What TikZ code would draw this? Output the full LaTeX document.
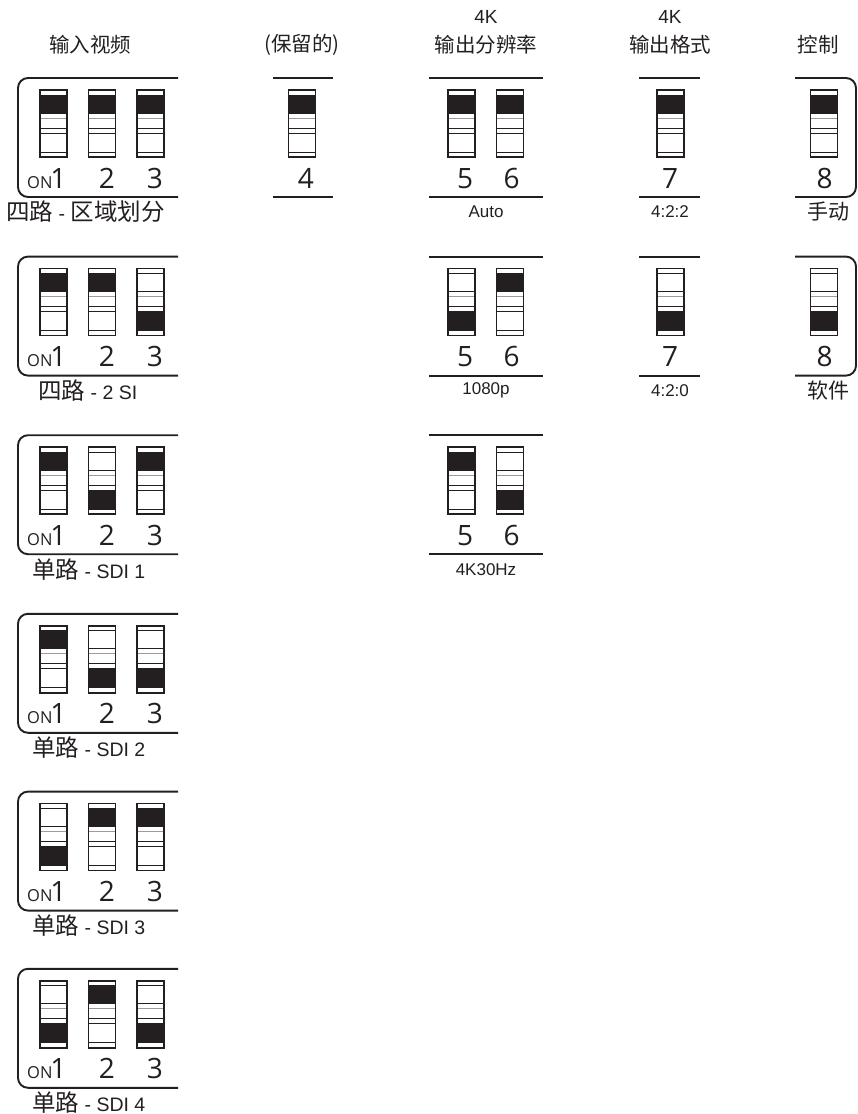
\documentclass[tikz,border=0pt]{standalone}
\usepackage{fontspec}
\setmainfont{Liberation Sans}
\newfontfamily\cjkfont{Noto Sans CJK SC}
\newfontfamily\numfont{Open Sans}
\usetikzlibrary{positioning}
\definecolor{swInk}{RGB}{35,31,32}
\newcommand\lat[1]{{\normalfont\fontsize{19.5}{19.5}\selectfont #1}}
\tikzset{
  frameline/.style={draw=swInk, line width=1.9pt},
  groupframe/.style={frameline, rounded corners=10pt},
  swcase/.style={draw=swInk, line width=1.5pt},
  swrule/.style={draw=swInk, line width=1pt},
  swfaint/.style={draw=swInk!45, line width=0.8pt},
  pics/dipsw/.style={code={
    \fill[swInk] (-13.5,#1) rectangle (13.5,#1+18.5);
    \foreach \h in {5,23,38,43,62} \draw[swrule] (-13.5,\h) -- (13.5,\h);
    \draw[swfaint] (-13.5,28) -- (13.5,28);
    \draw[swcase] (-13.5,0) rectangle (13.5,67);
  }},
  swnum/.style={anchor=base, inner sep=0pt, text=swInk, font=\numfont\fontsize{28}{28}\selectfont},
  onmark/.style={anchor=base west, inner sep=0pt, text=swInk, font=\numfont\fontsize{16.5}{16.5}\selectfont},
  head/.style={inner sep=0pt, text=swInk, font=\cjkfont\fontsize{20.5}{20.5}\selectfont},
  headtop/.style={inner sep=0pt, text=swInk, font=\fontsize{19}{19}\selectfont},
  modelabel/.style={anchor=west, inner sep=0pt, text=swInk, font=\cjkfont\fontsize{23.5}{23.5}\selectfont},
  valuelabel/.style={inner sep=0pt, text=swInk, font=\fontsize{17}{17}\selectfont},
  ctllabel/.style={inner sep=0pt, text=swInk, font=\cjkfont\fontsize{21}{21}\selectfont}
}
\begin{document}
\begin{tikzpicture}[x=1pt, y=-1pt]
\useasboundingbox (0,0) rectangle (858,1114);

% column headings
\node[head] (hIn) at (90,45) {输入视频};
\node[head] (hRsv) at (302,45) {(保留的)};
\node[headtop] (hResK) at (486,17) {4K};
\node[head] (hRes) at (486,45) {输出分辨率};
\node[headtop] (hFmtK) at (670,17) {4K};
\node[head] (hFmt) at (670,45) {输出格式};
\node[head] (hCtl) at (818,45) {控制};

% input video, switches 1-3
\foreach \t/\sa/\sb/\sc [count=\r] in {78/5/5/5, 256.6/5/5/43, 435.2/5/43/5,
    613.8/5/43/43, 791.6/43/5/5, 968.8/43/5/43}{
  \draw[groupframe] (178,\t) -| (18,\t+119) -- (178,\t+119);
  \pic at (53.5,\t+12) {dipsw=\sa};
  \pic at (102,\t+12) {dipsw=\sb};
  \pic at (150.5,\t+12) {dipsw=\sc};
  \node[onmark] (on\r) at (27,\t+110) {ON};
  \node[swnum] (nA\r) at (58.5,\t+110) {1};
  \node[swnum] (nB\r) at (107,\t+110) {2};
  \node[swnum] (nC\r) at (155,\t+110) {3};
}
\node[modelabel] (mode1) at (6,212) {四路\lat{~-~}区域划分};
\node[modelabel] (mode2) at (38,391) {四路\lat{~-~2 SI}};
\node[modelabel] (mode3) at (32,569.5) {单路\lat{~-~SDI 1}};
\node[modelabel] (mode4) at (32,748) {单路\lat{~-~SDI 2}};
\node[modelabel] (mode5) at (32,926) {单路\lat{~-~SDI 3}};
\node[modelabel] (mode6) at (32,1102.5) {单路\lat{~-~SDI 4}};

% reserved, switch 4
\draw[frameline] (273,78) -- (333,78);
\draw[frameline] (273,197) -- (333,197);
\pic at (302,90) {dipsw=5};
\node[swnum] (nD) at (306,188) {4};

% 4K output resolution, switches 5-6
\foreach \t/\sa/\sb/\txt [count=\r] in {78/5/5/Auto, 256.6/43/5/1080p, 435.2/5/43/4K30Hz}{
  \draw[frameline] (429,\t) -- (543,\t);
  \draw[frameline] (429,\t+119) -- (543,\t+119);
  \pic at (461.5,\t+12) {dipsw=\sa};
  \pic at (510,\t+12) {dipsw=\sb};
  \node[swnum] (nE\r) at (465,\t+110) {5};
  \node[swnum] (nF\r) at (511.5,\t+110) {6};
  \node[valuelabel] (res\r) at (486,\t+134) {\txt};
}

% 4K output format, switch 7
\foreach \t/\sa/\txt [count=\r] in {78/5/4:2:2, 256.6/43/4:2:0}{
  \draw[frameline] (639,\t) -- (700,\t);
  \draw[frameline] (639,\t+119) -- (700,\t+119);
  \pic at (670.5,\t+12) {dipsw=\sa};
  \node[swnum] (nG\r) at (670,\t+110) {7};
  \node[valuelabel] (fmt\r) at (670,\t+134) {\txt};
}

% control, switch 8
\foreach \t/\sa/\txt [count=\r] in {78/5/手动, 256.6/43/软件}{
  \draw[groupframe] (795,\t) -| (856,\t+119) -- (795,\t+119);
  \pic at (824,\t+12) {dipsw=\sa};
  \node[swnum] (nH\r) at (824.5,\t+110) {8};
  \node[ctllabel] (ctl\r) at (828,\t+134) {\txt};
}
\end{tikzpicture}
\end{document}
